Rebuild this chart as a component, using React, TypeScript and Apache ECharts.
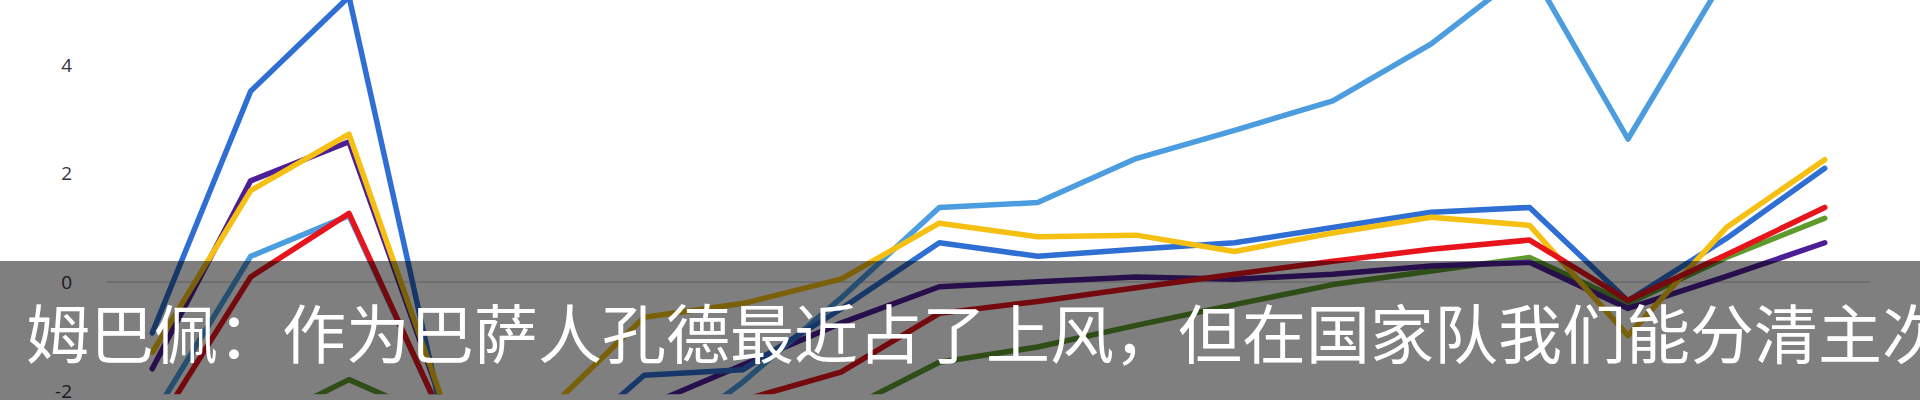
import React, { useEffect, useRef } from "react";
import * as echarts from "echarts";

// x positions (match index) and series values
const xIndex = [0, 1, 2, 3, 4, 5, 6, 7, 8, 9, 10, 11, 12, 13, 14, 15, 16, 17];

const lightBlue = [-2.5, 0.47, 1.22, -2.7, -3.5, -3.2, -1.85, -0.3, 1.37, 1.46, 2.27, 2.79, 3.33, 4.38, 5.78, 2.63, 5.66, 6.1];
const blue = [-0.94, 3.51, 5.25, -2.9, -3.3, -1.72, -1.62, -0.5, 0.72, 0.47, 0.6, 0.72, 1.0, 1.28, 1.37, -0.35, 0.8, 2.09];
const yellow = [-1.3, 1.68, 2.72, -2.45, -2.4, -0.65, -0.4, 0.05, 1.08, 0.83, 0.86, 0.56, 0.9, 1.19, 1.04, -0.99, 1.0, 2.25];
const purple = [-1.6, 1.86, 2.58, -2.5, -3.0, -2.3, -1.53, -0.76, -0.09, 0.0, 0.09, 0.05, 0.14, 0.29, 0.36, -0.49, 0.1, 0.72];
const red = [-2.8, 0.09, 1.26, -2.7, -3.3, -2.8, -2.18, -1.66, -0.58, -0.36, -0.11, 0.14, 0.38, 0.6, 0.77, -0.34, 0.5, 1.37];
const green = [-3.5, -2.7, -1.8, -2.6, -3.6, -3.3, -3.0, -2.4, -1.48, -1.2, -0.8, -0.42, -0.05, 0.2, 0.45, -0.4, 0.45, 1.17];

const yTickValues = [-2, 0, 2, 4];
// visible value range of the y axis (the chart is cropped at both edges)
const yMin = -2.018;
const yMax = 5.189;
const caption = "姆巴佩：作为巴萨人孔德最近占了上风，但在国家队我们能分清主次";

const seriesDefs = [
  { name: "green", values: green, color: "#5f9b2c" },
  { name: "purple", values: purple, color: "#4d1f96" },
  { name: "lightBlue", values: lightBlue, color: "#4c9de0" },
  { name: "blue", values: blue, color: "#2f6fd3" },
  { name: "yellow", values: yellow, color: "#f5c012" },
  { name: "red", values: red, color: "#e8141c" },
];

export default function App() {
  const ref = useRef<HTMLDivElement>(null);

  useEffect(() => {
    if (!ref.current) return;
    const chart = echarts.init(ref.current, null, { renderer: "svg" });
    chart.setOption({
      animation: false,
      backgroundColor: "#ffffff",
      grid: { left: 107, right: 50, top: 0, bottom: 0 },
      xAxis: {
        type: "value",
        min: -0.46,
        max: 17.46,
        axisLine: { show: true, onZero: true, lineStyle: { color: "#d2d2d2", width: 1.5 } },
        axisTick: { show: false },
        axisLabel: { show: false },
        splitLine: { show: false },
      },
      yAxis: {
        type: "value",
        min: yMin,
        max: yMax,
        axisLine: { show: false },
        axisTick: { show: false },
        splitLine: { show: false },
        axisLabel: {
          customValues: yTickValues,
          margin: 35,
          fontSize: 19,
          color: "#333340",
          fontFamily: "Open Sans, sans-serif",
        },
      },
      series: seriesDefs.map((s) => ({
        name: s.name,
        type: "line",
        data: xIndex.map((x, i) => [x, s.values[i]]),
        symbol: "none",
        lineStyle: { color: s.color, width: 5.5, cap: "round", join: "round" },
      })),
      graphic: [
        {
          type: "rect",
          z: 100,
          left: 0,
          top: 261,
          shape: { width: 1920, height: 139 },
          style: { fill: "rgba(0,0,0,0.5)" },
        },
        {
          type: "text",
          z: 101,
          left: 26,
          top: 298,
          style: {
            text: caption,
            fill: "#ffffff",
            fontSize: 64,
            fontFamily: "Noto Sans CJK SC",
            fontWeight: "normal",
          },
        },
      ],
    });
    return () => chart.dispose();
  }, []);

  return (
    <div
      ref={ref}
      style={{ position: "fixed", left: 0, top: 0, width: 1920, height: 400 }}
    />
  );
}
